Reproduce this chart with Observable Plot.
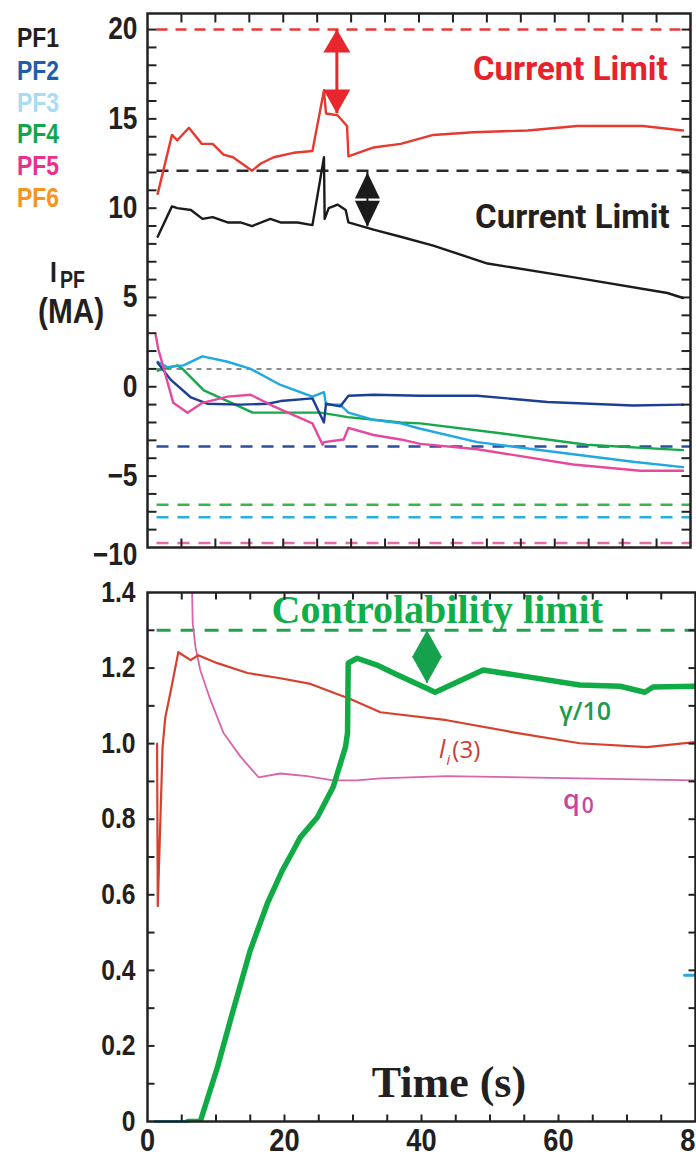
<!DOCTYPE html>
<html><head><meta charset="utf-8">
<script src="https://cdn.jsdelivr.net/npm/d3@7"></script>
<script src="https://cdn.jsdelivr.net/npm/@observablehq/plot@0.6"></script>
<style>
body{margin:0;background:#fff;}
#wrap{position:relative;width:696px;height:1158px;overflow:hidden;background:#fff;
  font-family:'Liberation Sans Narrow','Arial Narrow','Liberation Sans',Arial,sans-serif;font-weight:bold;}
#top,#bot{position:absolute;left:0;}
#top{top:0;} #bot{top:560px;}
.leg{position:absolute;left:17px;font-size:27px;line-height:1;white-space:nowrap;transform:scaleX(0.85);transform-origin:left center;}
.lab{position:absolute;line-height:1;white-space:nowrap;color:#231f20;transform:scaleX(0.85);transform-origin:left center;}
</style></head>
<body><div id="wrap"><div id="bot"></div><div id="top"></div><div id="legend"></div></div>
<script>
const FONT = "'Liberation Sans Narrow','Arial Narrow','Liberation Sans',Arial,sans-serif";
const ROBOTO = "Roboto,'Liberation Sans',sans-serif";
const SERIF = "'Liberation Serif','Times New Roman',serif";
const SANS = "'Open Sans','Noto Sans',sans-serif";
const NARROW = 0.85; // horizontal condensing of the bold sans tick labels

// ---------- legend ----------
const coilNames = ["PF1","PF2","PF3","PF4","PF5","PF6"];
const coilColors = ["#231f20","#1f5dab","#a9dcef","#12a64c","#e9318c","#f7941e"];

// ---------- top panel: coil currents (MA) vs time (s) ----------
const pf6Red = [[1.5,10.8],[3.6,14.1],[4.4,13.8],[6.1,14.5],[8.0,13.6],[9.6,13.6],[11.2,13.0],[12.6,12.85],[15.4,12.1],[16.7,12.5],[18.6,12.85],[21.5,13.1],[24.3,13.2],[26.0,16.6],[26.3,15.3],[28.0,15.2],[29.4,14.6],[29.6,12.9],[33.3,13.4],[37.3,13.6],[42.1,14.1],[48,14.25],[56,14.35],[63.3,14.6],[73,14.6],[78.9,14.35]];
const pf1Black = [[1.5,8.4],[3.6,10.1],[4.4,10.0],[6.4,9.9],[8.1,9.4],[9.6,9.5],[11.8,9.2],[13.7,9.2],[15.4,9.0],[18.1,9.4],[19.6,9.2],[22.1,9.2],[24.3,9.05],[26.0,12.85],[26.1,9.4],[26.7,10.0],[28.0,10.2],[29.2,9.9],[29.6,9.2],[33.3,8.8],[37.3,8.4],[42.1,7.9],[50.1,6.9],[63.3,6.1],[76.6,5.25],[78.9,4.97]];
const pf2Blue = [[1.5,1.35],[3.4,0.4],[6.4,-0.6],[8.8,-0.95],[13.7,-1.0],[17.7,-0.95],[19.6,-0.8],[24.3,-0.65],[26.0,-2.0],[26.3,-0.95],[28.4,-1.1],[29.6,-0.5],[33.3,-0.45],[40.2,-0.5],[48.6,-0.5],[58.9,-0.85],[71.5,-1.05],[78.9,-1.0]];
const pf3Cyan = [[1.5,1.4],[2.9,1.1],[5.3,1.2],[8.1,1.7],[11.8,1.4],[15.2,1.0],[19.6,0.1],[24.3,-0.55],[26.0,-0.3],[26.3,-1.0],[28.4,-1.0],[29.6,-1.45],[33.3,-1.85],[37.3,-2.05],[40.2,-2.35],[48.6,-3.1],[58.9,-3.6],[71.5,-4.2],[78.9,-4.5]];
const pf4Green = [[1.5,0.9],[4.4,1.2],[5.3,0.95],[8.3,-0.2],[11.8,-0.8],[15.5,-1.45],[19.6,-1.45],[25.5,-1.45],[29.5,-1.7],[37.3,-2.0],[40.2,-2.05],[52,-2.6],[64.7,-3.25],[78.9,-3.55]];
const pf5Pink = [[1.2,2.9],[1.6,2.1],[3.8,-0.9],[5.9,-1.45],[8.1,-0.9],[11.8,-0.55],[15.2,-0.45],[18.6,-1.1],[24.3,-2.05],[25.8,-3.25],[26.0,-3.1],[28.9,-2.95],[29.6,-2.3],[33.3,-2.7],[37.3,-2.95],[40.2,-3.2],[48.6,-3.5],[62.7,-4.35],[72.6,-4.7],[78.9,-4.7]];

const limitNames  = ["PF6","PF1","ref","PF2","PF4","PF3","PF5"];
const limitValues = [20, 12.1, 1.0, -3.35, -6.6, -7.3, -8.75];
const limitStart = 1.4, limitEnd = 80;

const topYTicks = [20,15,10,5,0,-5];
const topYBottomTick = [-10];
const topYMinor = d3.range(-8, 21, 1);
const timeMinor = d3.range(5, 80, 5);

// margin arrows (time, from, to)
const redArrow = [{t: 27.9, from: 20, to: 15.3}];
const blackArrow = [{t: 32.4, from: 12.0, to: 8.96}];

// ---------- bottom panel ----------
const li3Red = [[1.4,1.0],[1.5,0.57],[1.8,0.75],[2.2,0.99],[2.6,1.07],[3.4,1.14],[4.5,1.242],[6.3,1.221],[7.4,1.234],[10.2,1.213],[14.6,1.187],[19.4,1.173],[23.8,1.158],[29.6,1.118],[34,1.083],[43.7,1.062],[53.4,1.030],[63.1,1.001],[72.9,0.991],[80,1.004]];
const q0Pink = [[6.4,1.5],[6.6,1.32],[7.0,1.256],[7.7,1.195],[9.2,1.115],[11.1,1.028],[13.6,0.965],[16.2,0.911],[19.4,0.921],[23.3,0.914],[27.1,0.903],[30.6,0.903],[34,0.908],[43.7,0.914],[63.1,0.908],[80,0.903]];
const gammaGreen = [[5.9,0],[7.7,0],[10.2,0.143],[12.5,0.294],[15,0.453],[17.5,0.577],[19.7,0.665],[21.3,0.718],[22.3,0.752],[24.8,0.805],[27.1,0.885],[28.9,0.991],[29.2,1.028],[29.3,1.213],[30.6,1.226],[33.5,1.208],[35.9,1.187],[42,1.136],[49,1.195],[55.8,1.176],[63.1,1.155],[69,1.152],[72.6,1.136],[73.8,1.150],[80,1.152]];
const cyanBits = [[[1.1,0],[5.9,0]], [[78.4,0.387],[80,0.387]]];
const controlLimit = 1.3;
const greenArrow = [{t: 40.8, from: 1.3, to: 1.16}];

const botYTicks = [0,0.2,0.4,0.6,0.8,1.0,1.2,1.4];
const botYMinor = d3.range(1, 14).map(i => i / 10);
const timeTicks = [0,20,40,60,80];

// ---------- helpers ----------
const tk = (dx, dy) => ({draw(c){ c.moveTo(0,0); c.lineTo(dx,dy); }});
const headUp = (w,h) => ({draw(c){ c.moveTo(0,0); c.lineTo(-w/2,h); c.lineTo(w/2,h); c.closePath(); }});
const headDown = (w,h) => ({draw(c){ c.moveTo(0,0); c.lineTo(-w/2,-h); c.lineTo(w/2,-h); c.closePath(); }});
const X = d => d[0], Y = d => d[1];
const limitStyle = {
  PF6: {stroke:"#e8393a", dash:"11,8", w:2.5},
  PF1: {stroke:"#2a2a2a", dash:"12,8", w:2.5},
  ref: {stroke:"#8c8c8c", dash:"5,5", w:2},
  PF2: {stroke:"#2c4c9c", dash:"12,9", w:2.5},
  PF4: {stroke:"#3ab54a", dash:"12,9", w:2.5},
  PF3: {stroke:"#2aaee2", dash:"12,9", w:2.5},
  PF5: {stroke:"#e46aa8", dash:"12,9", w:2.5}
};
const frameTicks = (yMinor, xMinor, len) => [
  Plot.dot(yMinor, {y: d=>d, frameAnchor:"left", symbol: tk(len,0), stroke:"#222", strokeWidth:2, fill:"none"}),
  Plot.dot(yMinor, {y: d=>d, frameAnchor:"right", symbol: tk(-len,0), stroke:"#222", strokeWidth:2, fill:"none"}),
  Plot.dot(xMinor, {x: d=>d, frameAnchor:"top", symbol: tk(0,len), stroke:"#222", strokeWidth:2, fill:"none"}),
  Plot.dot(xMinor, {x: d=>d, frameAnchor:"bottom", symbol: tk(0,-len), stroke:"#222", strokeWidth:2, fill:"none"})
];

// ---------- top plot ----------
const topPlot = Plot.plot({
  width: 696, height: 580,
  marginLeft: 147, marginRight: 6, marginTop: 13, marginBottom: 33,
  x: {domain: [0, 80], axis: null},
  y: {domain: [-9, 20.9], axis: null},
  style: {background: "transparent", overflow: "visible", fontFamily: FONT, fontWeight: "bold", color: "#231f20"},
  marks: [
    ...limitNames.map((n, i) => Plot.ruleY([limitValues[i]], {x1: limitStart, x2: limitEnd, stroke: limitStyle[n].stroke, strokeWidth: limitStyle[n].w, strokeDasharray: limitStyle[n].dash})),
    Plot.line(pf6Red, {x: X, y: Y, stroke: "#e8392f", strokeWidth: 2.4}),
    Plot.line(pf1Black, {x: X, y: Y, stroke: "#1b1b1b", strokeWidth: 2.4}),
    Plot.line(pf4Green, {x: X, y: Y, stroke: "#16a84a", strokeWidth: 2.4}),
    Plot.line(pf3Cyan, {x: X, y: Y, stroke: "#1fa9e3", strokeWidth: 2.4}),
    Plot.line(pf2Blue, {x: X, y: Y, stroke: "#1d3e95", strokeWidth: 2.4}),
    Plot.line(pf5Pink, {x: X, y: Y, stroke: "#e6489b", strokeWidth: 2.4}),
    // arrows
    Plot.ruleX(redArrow, {x: "t", y1: "from", y2: "to", stroke: "#e8262e", strokeWidth: 3}),
    Plot.dot(redArrow, {x: "t", y: "from", symbol: headUp(27,23), fill: "#e8262e", stroke: "none"}),
    Plot.dot(redArrow, {x: "t", y: "to", symbol: headDown(27,24), fill: "#e8262e", stroke: "none"}),
    Plot.ruleX(blackArrow, {x: "t", y1: "from", y2: "to", stroke: "#1b1b1b", strokeWidth: 2}),
    Plot.dot(blackArrow, {x: "t", y: "from", symbol: headUp(25,26), fill: "#1b1b1b", stroke: "none"}),
    Plot.dot(blackArrow, {x: "t", y: "to", symbol: headDown(25,26), fill: "#1b1b1b", stroke: "none"}),
    Plot.text(["Current Limit"], {x: 62.3, y: 17.75, text: d=>d, fill: "#e8222d", fontSize: 33, fontWeight: "bold", fontFamily: ROBOTO}),
    Plot.text(["Current Limit"], {x: 62.6, y: 9.46, text: d=>d, fill: "#231f20", fontSize: 33, fontWeight: "bold", fontFamily: ROBOTO}),
    ...frameTicks(topYMinor, timeMinor, 9),
    Plot.frame({stroke: "#222", strokeWidth: 2.5}),
    Plot.axisY({ticks: topYTicks, tickSize: 0, tickPadding: 10, fontSize: 31, fontWeight: "bold", label: null}),
    Plot.axisY({ticks: topYBottomTick, tickSize: 0, tickPadding: 10, fontSize: 31, fontWeight: "bold", label: null, dy: -10})
  ]
});
document.getElementById("top").appendChild(topPlot);

// ---------- bottom plot ----------
const botPlot = Plot.plot({
  width: 696, height: 598,
  marginLeft: 147, marginRight: 1, marginTop: 32, marginBottom: 37,
  x: {domain: [0, 80], axis: null},
  y: {domain: [0, 1.4], axis: null},
  style: {background: "transparent", overflow: "visible", fontFamily: FONT, fontWeight: "bold", color: "#231f20"},
  marks: [
    Plot.ruleY([controlLimit], {x1: limitStart, x2: 80, stroke: "#2a9d55", strokeWidth: 3, strokeDasharray: "14,10"}),
    ...cyanBits.map(s => Plot.line(s, {x: X, y: Y, stroke: "#29a9e0", strokeWidth: 3})),
    Plot.line(q0Pink, {x: X, y: Y, stroke: "#d964ac", strokeWidth: 1.8, clip: true}),
    Plot.line(li3Red, {x: X, y: Y, stroke: "#d6412f", strokeWidth: 2.2, clip: true}),
    Plot.line(gammaGreen, {x: X, y: Y, stroke: "#10ab45", strokeWidth: 5.5, clip: true}),
    Plot.ruleX(greenArrow, {x: "t", y1: "from", y2: "to", stroke: "#16a24d", strokeWidth: 2}),
    Plot.dot(greenArrow, {x: "t", y: "from", symbol: headUp(30,27), fill: "#16a24d", stroke: "none"}),
    Plot.dot(greenArrow, {x: "t", y: "to", symbol: headDown(30,27), fill: "#16a24d", stroke: "none"}),
    Plot.text(["Controlability limit"], {x: 42.3, y: 1.352, text: d=>d, fill: "#0fae48", fontSize: 40, fontWeight: "bold", fontFamily: SERIF}),
    Plot.text(["γ/10"], {x: 63.9, y: 1.085, text: d=>d, fill: "#1d9a4e", fontSize: 25, fontWeight: 600, fontFamily: SANS}),
    Plot.text(["l"], {x: 44.5, y: 0.983, text: d=>d, fill: "#d23b2f", fontSize: 25, fontStyle: "italic", fontWeight: 500, fontFamily: SANS, textAnchor: "end", dx: -7}),
    Plot.text(["i"], {x: 44.5, y: 0.983, text: d=>d, fill: "#d23b2f", fontSize: 14, fontStyle: "italic", fontWeight: 500, fontFamily: SANS, textAnchor: "middle", dx: -4, dy: 10}),
    Plot.text(["(3)"], {x: 44.5, y: 0.983, text: d=>d, fill: "#d23b2f", fontSize: 24, fontWeight: 500, fontFamily: SANS, textAnchor: "start"}),
    Plot.text(["q"], {x: 63.1, y: 0.85, text: d=>d, fill: "#c4479c", fontSize: 27, fontWeight: 600, fontFamily: SANS, textAnchor: "end"}),
    Plot.text(["0"], {x: 63.1, y: 0.85, text: d=>d, fill: "#c4479c", fontSize: 21, fontWeight: 600, fontFamily: SANS, textAnchor: "start", dx: 2, dy: 6}),
    Plot.text(["Time (s)"], {x: 44, y: 0.103, text: d=>d, fill: "#231f20", fontSize: 44, fontWeight: "bold", fontFamily: SERIF}),
    ...frameTicks(botYMinor, timeMinor, 7),
    Plot.frame({stroke: "#222", strokeWidth: 2.5}),
    Plot.axisY({ticks: botYTicks, tickSize: 0, tickPadding: 12, fontSize: 29, fontWeight: "bold", label: null, tickFormat: d => d === 0 ? "0" : d3.format(".1f")(d)}),
    Plot.axisX({ticks: timeTicks, tickSize: 0, tickPadding: 7, fontSize: 32, fontWeight: "bold", label: null})
  ]
});
document.getElementById("bot").appendChild(botPlot);

// condense the bold sans tick labels (the reference uses a condensed face)
for (const svg of [topPlot, botPlot]) {
  svg.querySelectorAll("text").forEach(t => {
    const ff = getComputedStyle(t).fontFamily;
    if (ff.includes("Narrow")) {
      const L = t.getComputedTextLength();
      if (L > 0) { t.setAttribute("textLength", (L * NARROW).toFixed(1)); t.setAttribute("lengthAdjust", "spacingAndGlyphs"); }
    }
  });
}

// ---------- legend & y label (HTML) ----------
const leg = document.getElementById("legend");
const legTops = [25, 58, 90, 121, 153, 185];
coilNames.forEach((n, i) => {
  const d = document.createElement("div");
  d.className = "leg"; d.textContent = n; d.style.color = coilColors[i]; d.style.top = legTops[i] + "px";
  leg.appendChild(d);
});
const mk = (txt, left, top, size) => {
  const d = document.createElement("div");
  d.className = "lab"; d.textContent = txt;
  d.style.left = left + "px"; d.style.top = top + "px"; d.style.fontSize = size + "px";
  leg.appendChild(d);
};
mk("I", 50, 258, 29);
mk("PF", 60, 269, 23);
mk("(MA)", 38, 293, 35);
</script>
</body></html>
